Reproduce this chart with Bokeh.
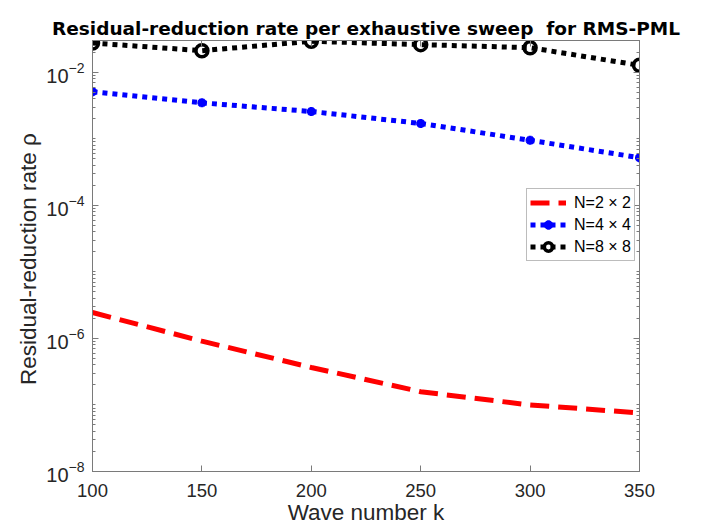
from bokeh.plotting import figure
from bokeh.models import FixedTicker, LogAxis, LinearAxis, Legend
from bokeh.embed import file_html
from bokeh.resources import INLINE

k = [100, 150, 200, 250, 300, 350]
rho_2x2 = [2.45e-6, 9.1e-7, 3.66e-7, 1.58e-7, 1.0e-7, 7.6e-8]
rho_4x4 = [5.1e-3, 3.47e-3, 2.57e-3, 1.7e-3, 9.5e-4, 5.2e-4]
rho_8x8 = [2.75e-2, 2.11e-2, 2.92e-2, 2.6e-2, 2.34e-2, 1.27e-2]
x_ticks = [100, 150, 200, 250, 300, 350]
y_ticks = [1e-8, 1e-6, 1e-4, 1e-2]
labels = ["N=2 \u00d7 2", "N=4 \u00d7 4", "N=8 \u00d7 8"]

axis_col = "#7a7a7a"
txt_col = "#262626"
font = "Liberation Sans"

p = figure(width=698, height=530, x_range=(100, 350), y_range=(1e-8, 0.03),
           y_axis_type="log", output_backend="svg", toolbar_location=None,
           min_border_left=92, min_border_right=59, min_border_top=40,
           min_border_bottom=59,
           title="Residual-reduction rate per exhaustive sweep\u00a0 for RMS-PML")
p.title.align = "center"
p.title.text_font = "DejaVu Sans"
p.title.text_font_size = "18.5px"
p.title.text_font_style = "bold"
p.title.text_color = "black"
p.title.standoff = 4
p.grid.visible = False
p.outline_line_color = axis_col
p.outline_line_width = 1

minor = [m * 10.0 ** e for e in range(-8, -1) for m in range(1, 10)]
xt = FixedTicker(ticks=x_ticks, minor_ticks=[])
yt = FixedTicker(ticks=y_ticks, minor_ticks=minor)

def style(ax, show_labels=True):
    ax.axis_line_color = axis_col
    ax.major_tick_line_color = axis_col
    ax.minor_tick_line_color = axis_col
    ax.major_tick_in = 6
    ax.major_tick_out = 0
    ax.minor_tick_in = 3
    ax.minor_tick_out = 0
    ax.major_label_text_font = font
    ax.major_label_text_font_size = "18.5px"
    ax.major_label_text_color = txt_col
    ax.axis_label_text_font = font
    ax.axis_label_text_font_size = "22.5px"
    ax.axis_label_text_font_style = "normal"
    ax.axis_label_text_color = txt_col
    if not show_labels:
        ax.major_label_text_font_size = "1px"
        ax.major_label_text_alpha = 0
        ax.major_label_standoff = 0

p.xaxis.ticker = xt
p.yaxis.ticker = yt
style(p.xaxis[0])
style(p.yaxis[0])
p.yaxis.major_label_text_font_size = "20px"
p.xaxis.axis_label = "Wave number k"
p.yaxis.axis_label = "Residual-reduction rate  \u03c1"
p.xaxis.major_label_standoff = 12
p.yaxis.major_label_standoff = 8
p.xaxis.axis_label_standoff = 0
p.yaxis.axis_label_standoff = 2

ra = LogAxis(ticker=yt)
style(ra, False)
p.add_layout(ra, "right")
ta = LinearAxis(ticker=xt)
style(ta, False)
p.add_layout(ta, "above")

r1 = p.line(k, rho_2x2, line_color="red", line_width=5, line_dash="19 9")
r2 = p.line(k, rho_4x4, line_color="blue", line_width=5, line_dash="5 5")
m2 = p.scatter(k, rho_4x4, marker="asterisk", size=9, line_color="blue",
               line_width=3)
m2b = p.scatter(k, rho_4x4, marker="circle", size=6, fill_color="blue",
                line_color="blue")
r3 = p.line(k, rho_8x8, line_color="black", line_width=5, line_dash="5 5")
m3 = p.scatter(k, rho_8x8, marker="circle", size=12, fill_alpha=0,
               line_color="black", line_width=3.5)

legend = Legend(items=[(labels[0], [r1]), (labels[1], [r2, m2, m2b]),
                       (labels[2], [r3, m3])],
                location=(434, 210))
legend.label_text_font = font
legend.label_text_font_size = "16px"
legend.label_text_color = "black"
legend.border_line_color = axis_col
legend.margin = 0
legend.padding = 3
legend.spacing = 1
legend.glyph_width = 36
legend.glyph_height = 21
legend.label_height = 21
legend.label_standoff = 8
p.add_layout(legend, "center")

open("out.html", "w").write(file_html(p, INLINE))
